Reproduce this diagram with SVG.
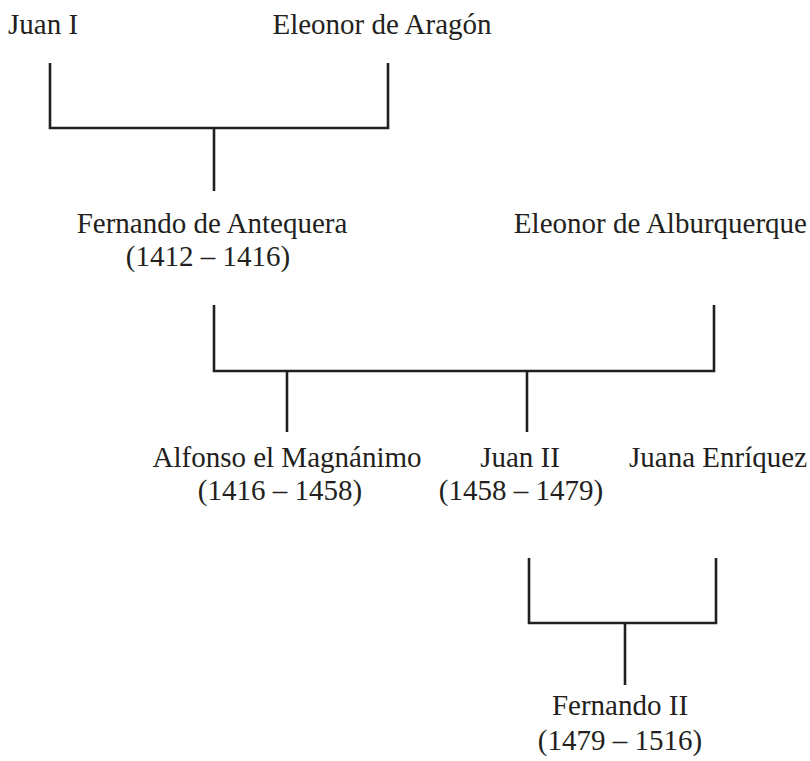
<svg xmlns="http://www.w3.org/2000/svg" width="810" height="761" viewBox="0 0 810 761">
<style>
text{font-family:"Liberation Serif","DejaVu Serif",serif;font-size:29px;fill:#231f20}
.c{text-anchor:middle}
.e{text-anchor:end}
.ln{fill:none;stroke:#231f20;stroke-width:2.6;stroke-linecap:butt;stroke-linejoin:miter}
</style>
<rect width="810" height="761" fill="#fff"/>
<g id="connectors">
<path class="ln" d="M50,63 V128 H388 V63 M214,128 V191"/>
<path class="ln" d="M214,305 V371 H714 V305 M287,371 V432 M527,371 V432"/>
<path class="ln" d="M529,558 V623 H716 V558 M625,623 V685"/>
</g>
<g id="juan-i"><text x="8" y="34">Juan I</text></g>
<g id="eleonor-aragon"><text class="c" x="382" y="34">Eleonor de Aragón</text></g>
<g id="fernando-antequera"><text class="c" x="212" y="233">Fernando de Antequera</text><text class="c" x="208" y="266">(1412 – 1416)</text></g>
<g id="eleonor-alburquerque"><text class="e" x="807" y="233">Eleonor de Alburquerque</text></g>
<g id="alfonso"><text class="c" x="287" y="467">Alfonso el Magnánimo</text><text class="c" x="280" y="500">(1416 – 1458)</text></g>
<g id="juan-ii"><text class="c" x="520" y="467">Juan II</text><text class="c" x="521" y="500">(1458 – 1479)</text></g>
<g id="juana-enriquez"><text class="e" x="807" y="467">Juana Enríquez</text></g>
<g id="fernando-ii"><text class="c" x="620" y="715">Fernando II</text><text class="c" x="620" y="750">(1479 – 1516)</text></g>
</svg>
